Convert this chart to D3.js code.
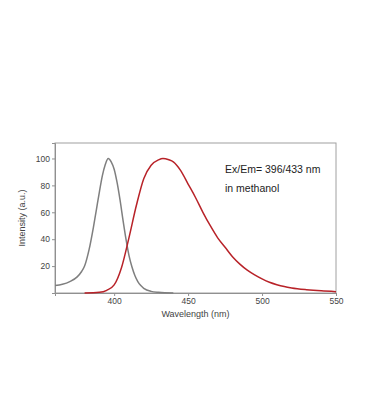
<!DOCTYPE html>
<html>
<head>
<meta charset="utf-8">
<script src="https://cdn.jsdelivr.net/npm/d3@7"></script>
<style>
  body { margin: 0; background: #fff; }
  svg { display: block; font-family: "Liberation Sans", Arial, sans-serif; }
</style>
</head>
<body>
<script>
var width = 370,
    height = 420;

// excitation spectrum (grey)
var exWavelength = [360, 365, 370, 375, 378, 380, 383, 386, 388, 390, 392, 394, 396, 398, 400, 402, 404, 406, 408, 410, 412, 414, 416, 418, 420, 425, 430, 440];
var exIntensity  = [5.5, 6.5, 8.5, 12, 16, 20, 32, 49, 62, 75, 87, 95.5, 100, 97.5, 92, 82, 69, 54, 40, 28, 19.5, 13, 8.5, 5.5, 3.5, 1.2, 0.5, 0];

// emission spectrum (red)
var emWavelength = [380, 390, 395, 400, 405, 410, 415, 420, 425, 430, 433, 437, 440, 445, 450, 455, 460, 465, 470, 475, 480, 485, 490, 495, 500, 505, 510, 515, 520, 530, 540, 550];
var emIntensity  = [0, 0.5, 2, 6, 19, 41, 65, 85, 95, 99, 100, 99, 97.5, 91, 81, 71, 60, 50, 41, 34, 27, 21.5, 17, 13.5, 10.5, 8, 6.2, 4.8, 3.8, 2.5, 1.6, 1.0];

var xTicks = [400, 450, 500, 550];
var yTicks = [20, 40, 60, 80, 100];
var notes = ["Ex/Em= 396/433 nm", "in methanol"];

var margin = {top: 143, left: 55, right: 34, bottom: 127};
var plotW = width - margin.left - margin.right,
    plotH = height - margin.top - margin.bottom;

var svg = d3.select("body").append("svg")
    .attr("width", width)
    .attr("height", height);

var x = d3.scaleLinear().domain([360, 550]).range([0, plotW]);
var y = d3.scaleLinear().domain([0, 111.5]).range([plotH, 0]);

var g = svg.append("g")
    .attr("transform", "translate(" + margin.left + "," + margin.top + ")");

// frame
g.append("rect")
    .attr("width", plotW)
    .attr("height", plotH)
    .style("fill", "none")
    .style("stroke", "#a0a0a0")
    .style("stroke-width", 1);

var xAxis = g.append("g")
    .attr("transform", "translate(0," + plotH + ")")
    .call(d3.axisBottom(x).tickValues(xTicks).tickSize(3).tickPadding(2));

var yAxis = g.append("g")
    .call(d3.axisLeft(y).tickValues(yTicks).tickSize(3).tickPadding(2));

[xAxis, yAxis].forEach(function(a) {
    a.select(".domain").style("stroke", "#909090");
    a.selectAll(".tick line").style("stroke", "#909090");
    a.selectAll(".tick text")
        .style("font-family", "Liberation Sans, Arial, sans-serif")
        .style("font-size", "8.5px")
        .style("fill", "#444");
});

g.append("text")
    .attr("x", plotW / 2)
    .attr("y", plotH + 24)
    .attr("text-anchor", "middle")
    .style("font-size", "9px")
    .style("fill", "#444")
    .text("Wavelength (nm)");

g.append("text")
    .attr("transform", "translate(-30," + (plotH / 2) + ") rotate(-90)")
    .attr("text-anchor", "middle")
    .style("font-size", "9px")
    .style("fill", "#444")
    .text("Intensity (a.u.)");

var line = d3.line()
    .x(function(d) { return x(d[0]); })
    .y(function(d) { return y(d[1]); })
    .curve(d3.curveMonotoneX);

g.append("path")
    .datum(d3.zip(exWavelength, exIntensity))
    .attr("d", line)
    .style("fill", "none")
    .style("stroke", "#7f7f7f")
    .style("stroke-width", 1.5);

g.append("path")
    .datum(d3.zip(emWavelength, emIntensity))
    .attr("d", line)
    .style("fill", "none")
    .style("stroke", "#b82228")
    .style("stroke-width", 1.5);

g.selectAll(".note")
    .data(notes)
    .enter().append("text")
    .attr("class", "note")
    .attr("x", 170)
    .attr("y", function(d, i) { return 30 + i * 19; })
    .style("font-size", "10.5px")
    .style("fill", "#222")
    .text(function(d) { return d; });
</script>
</body>
</html>
